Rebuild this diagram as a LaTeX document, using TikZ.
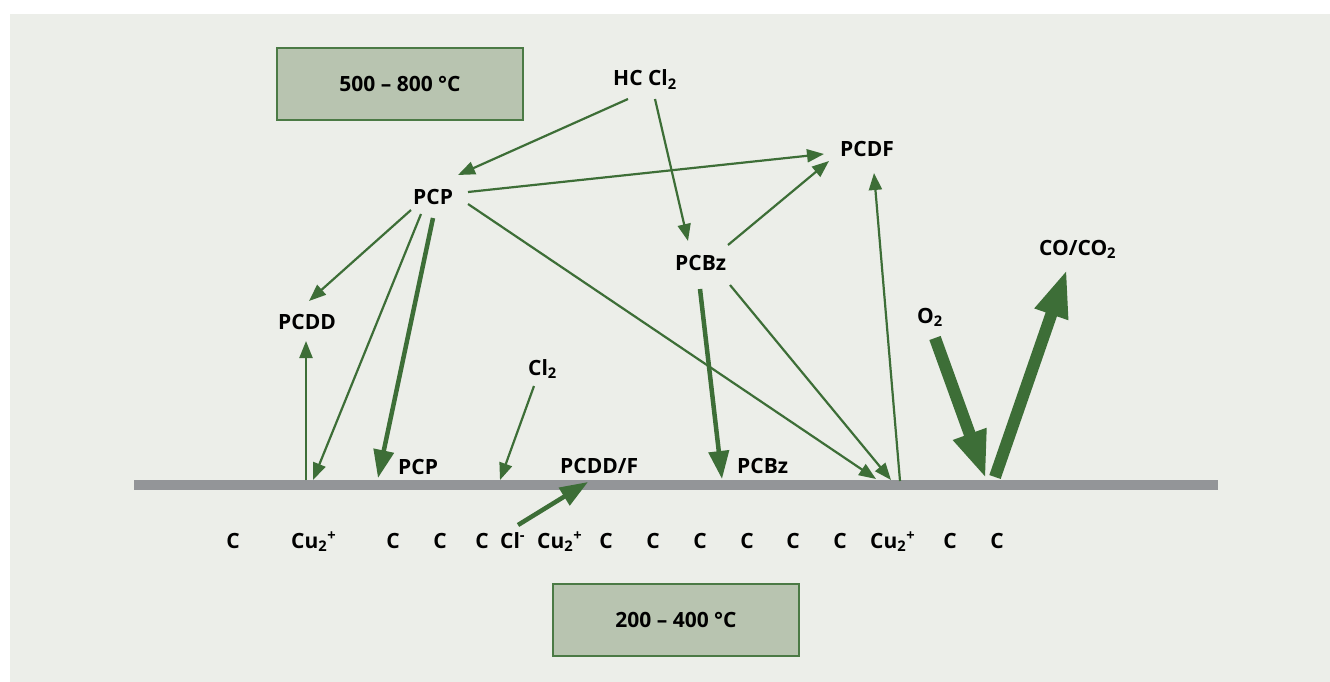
\documentclass[tikz,border=0pt]{standalone}
\usepackage{fontspec}
\setmainfont{Open Sans}
\usetikzlibrary{arrows.meta}
\definecolor{panel}{HTML}{ECEEE9}
\definecolor{leaf}{HTML}{3D6E37}
\definecolor{boxfill}{HTML}{B8C4B0}
\definecolor{boxedge}{HTML}{4B7A45}
\definecolor{surface}{HTML}{939598}

\begin{document}
\begin{tikzpicture}[x=1pt,y=-1pt,
  lbl/.style={inner sep=0pt, anchor=base west, font=\fontsize{21}{25}\selectfont\bfseries},
  atom/.style={inner sep=0pt, anchor=base, font=\fontsize{21}{25}\selectfont\bfseries},
  tempbox/.style={draw=boxedge, line width=2.5pt, fill=boxfill, minimum width=246pt,
    minimum height=72pt, inner sep=0pt, font=\fontsize{21}{25}\selectfont\bfseries},
  flow/.style={draw=leaf, line width=2.2pt, -{Triangle[length=17pt,width=13pt]}},
  flowthick/.style={draw=leaf, line width=4.5pt, -{Triangle[length=28pt,width=20pt]}},
  flowbig/.style={draw=leaf, line width=12pt, -{Triangle[length=48pt,width=32pt]}},
]
% canvas and background panel
\fill[white] (0,0) rectangle (1330,682);
\fill[panel] (10,14) rectangle (1330,682);

% temperature boxes
\node[tempbox] (hot) at (400,84) {500 – 800 °C};
\node[tempbox] (cool) at (676,620) {200 – 400 °C};

% catalyst surface
\fill[surface] (134,480) rectangle (1218,490);

% gas-phase species
\node[lbl] (hccl) at (613,86) {HC Cl\textsubscript{2}};
\node[lbl] (pcp) at (413,204) {PCP};
\node[lbl] (pcdf) at (840,157) {PCDF};
\node[lbl] (pcbz) at (675,270) {PCBz};
\node[lbl] (pcdd) at (278,329) {PCDD};
\node[lbl] (coco) at (1039,255) {CO/CO\textsubscript{2}};
\node[lbl] (oxy) at (917,323) {O\textsubscript{2}};
\node[lbl] (cltwo) at (528,375) {Cl\textsubscript{2}};

% adsorbed species
\node[lbl] (pcpS) at (398,474) {PCP};
\node[lbl] (pcddfS) at (560,473) {PCDD/F};
\node[lbl] (pcbzS) at (737,473) {PCBz};

% surface sites
\node[atom] (c1) at (233,548) {C};
\node[lbl] (cu1) at (291,548) {Cu\textsubscript{2}\textsuperscript{+}};
\node[atom] (c2) at (393,548) {C};
\node[atom] (c3) at (440,548) {C};
\node[atom] (c4) at (482,548) {C};
\node[lbl] (clm) at (500,548) {Cl\textsuperscript{-}};
\node[lbl] (cu2) at (537,548) {Cu\textsubscript{2}\textsuperscript{+}};
\node[atom] (c5) at (606,548) {C};
\node[atom] (c6) at (653,548) {C};
\node[atom] (c7) at (700,548) {C};
\node[atom] (c8) at (747,548) {C};
\node[atom] (c9) at (793,548) {C};
\node[atom] (c10) at (840,548) {C};
\node[lbl] (cu3) at (870,548) {Cu\textsubscript{2}\textsuperscript{+}};
\node[atom] (c11) at (950,548) {C};
\node[atom] (c12) at (997,548) {C};

% connector end points
\coordinate (hcclL) at (628,99);
\coordinate (hcclR) at (655,99);
\coordinate (pcpIn) at (458,175);
\coordinate (pcpE) at (468,192);
\coordinate (pcpSE) at (468,204);
\coordinate (pcpSW) at (411,210);
\coordinate (pcpS1) at (421,214);
\coordinate (pcpS2) at (433,218);
\coordinate (pcdfW) at (824,154);
\coordinate (pcdfSW) at (829,161);
\coordinate (pcdfS) at (874,173);
\coordinate (pcbzN) at (688,241);
\coordinate (pcbzNE) at (728,245);
\coordinate (pcbzS) at (700,289);
\coordinate (pcbzSE) at (730,285);
\coordinate (pcddN) at (309,301);
\coordinate (pcddS) at (306,341);
\coordinate (siteA) at (306,480);
\coordinate (siteB) at (313,480);
\coordinate (sitePCP) at (378,478);
\coordinate (siteCl) at (500,480);
\coordinate (siteF) at (588,482);
\coordinate (siteBz) at (722,479);
\coordinate (siteC) at (876,479);
\coordinate (siteD) at (891,480);
\coordinate (siteE) at (900,481);
\coordinate (siteO) at (986,479);
\coordinate (siteCO) at (995,477);
\coordinate (cltwoS) at (534,386);
\coordinate (clmN) at (518,525);
\coordinate (oxyS) at (935,338);
\coordinate (cocoS) at (1067,269);

% thin reaction paths
\draw[flow] (hcclL) -- (pcpIn);
\draw[flow] (hcclR) -- (pcbzN);
\draw[flow] (pcpE) -- (pcdfW);
\draw[flow] (pcbzNE) -- (pcdfSW);
\draw[flow] (siteE) -- (pcdfS);
\draw[flow] (pcpSW) -- (pcddN);
\draw[flow] (siteA) -- (pcddS);
\draw[flow] (pcpS1) -- (siteB);
\draw[flow] (pcpSE) -- (siteC);
\draw[flow] (pcbzSE) -- (siteD);
\draw[flow] (cltwoS) -- (siteCl);

% main adsorption paths
\draw[flowthick] (pcpS2) -- (sitePCP);
\draw[flowthick] (pcbzS) -- (siteBz);
\draw[flowthick] (clmN) -- (siteF);

% oxidation
\draw[flowbig] (oxyS) -- (siteO);
\draw[flowbig] (siteCO) -- (cocoS);
\end{tikzpicture}
\end{document}
